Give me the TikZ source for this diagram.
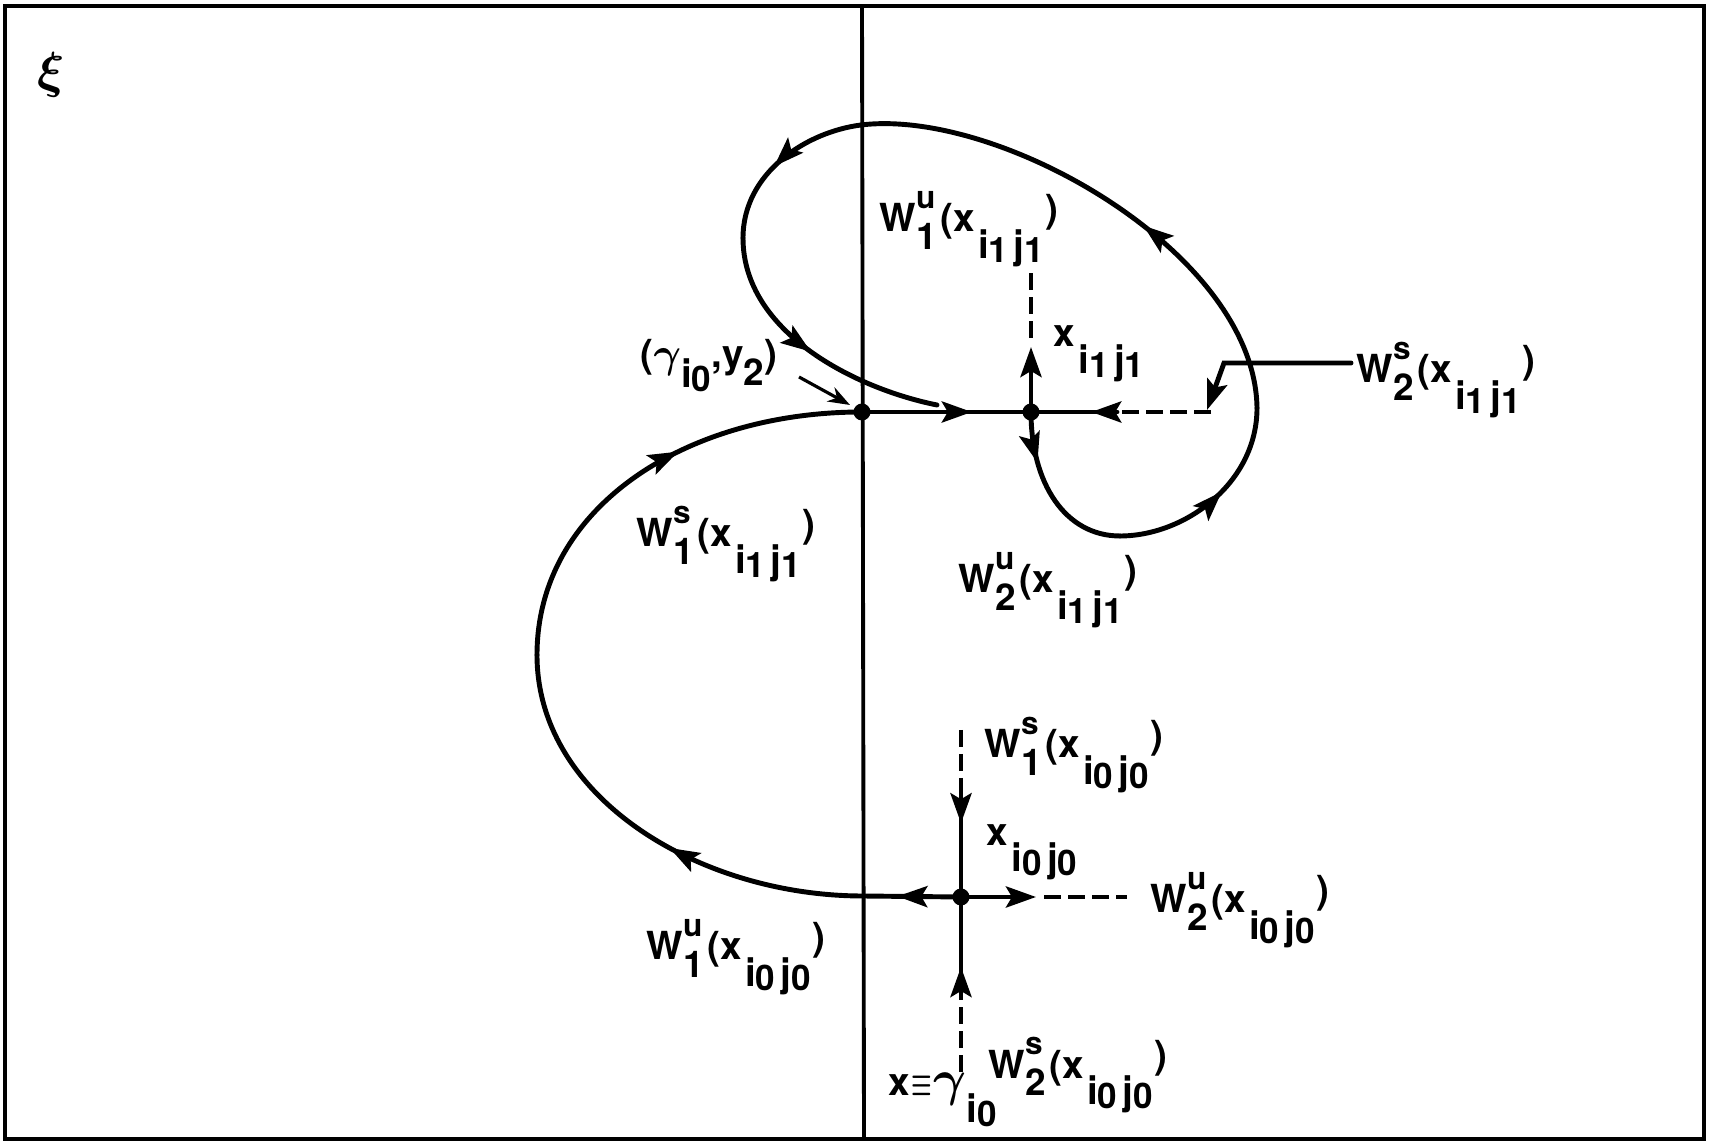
\documentclass[tikz,border=0pt]{standalone}
\usepackage{fontspec}
\setsansfont{TeX Gyre Heros}
\usetikzlibrary{arrows.meta,decorations.markings}

% index digit, lowered index pair i_a j_b
\newcommand{\idx}[1]{\raisebox{-0.12em}{\fontsize{10}{11}\selectfont#1}}
\newcommand{\subij}[2]{\raisebox{-0.68em}{\kern0.08em i\idx{#1}\kern0.14em j\idx{#2}}}
% manifold label W^a_b(x_{i_c j_d})
\newcommand{\Wlab}[4]{W\rlap{\raisebox{0.6em}{\small#1}}\raisebox{-0.45em}{\fontsize{10.5}{11}\selectfont#2}\kern0.1em(x\subij{#3}{#4}\kern0.05em\raisebox{0.25em}{)}}

\tikzset{
  curve/.style={line width=1.4pt, line cap=round},
  dashline/.style={line width=1.2pt, dash pattern=on 0.17cm off 0.07cm},
  lab/.style={font=\fontsize{11}{13}\selectfont\bfseries\sffamily\boldmath, inner sep=0pt, anchor=base west},
  midtip/.style={postaction={decorate, decoration={markings, mark=at position #1 with {\arrow{>}}}}}
}

\begin{document}
\begin{tikzpicture}[>={Stealth[length=3mm,width=2.1mm,inset=0.6mm]}]
\useasboundingbox (0,0) rectangle (17.12,11.43);

% Frame and section line
\draw[line width=1.4pt] (0.05,0.04) rectangle (17.04,11.37);
\draw[line width=1.1pt] (8.62,11.37) -- (8.64,0.04);

\coordinate (A) at (8.62,7.31);
\coordinate (B) at (10.31,7.31);
\coordinate (C) at (9.61,2.46);

% Lower loop from x_{i0j0} to (gamma,y2)
\draw[curve, midtip=0.65] (C) -- (8.63,2.47) coordinate (c-w);
\draw[curve, midtip=0.45] (c-w) .. controls (7.0,2.47) and (5.37,3.45) .. (5.37,4.88) coordinate (l-w);
\draw[curve, midtip=0.58] (l-w) .. controls (5.37,6.35) and (6.85,7.31) .. (A);

% Upper loop from x_{i1j1}
\draw[curve, midtip=0.3] (B) .. controls (10.31,6.6) and (10.65,6.07) .. (11.20,6.07) coordinate (u-s);
\draw[curve, midtip=0.55] (u-s) .. controls (11.85,6.07) and (12.57,6.6) .. (12.57,7.35) coordinate (u-e);
\draw[curve, midtip=0.42] (u-e) .. controls (12.55,8.9) and (10.0,10.35) .. (8.61,10.18) coordinate (u-n);
\draw[curve, midtip=0.55] (u-n) .. controls (8.06,10.11) and (7.43,9.7) .. (7.43,9.05) coordinate (u-w);
\draw[curve, midtip=0.5] (u-w) .. controls (7.43,8.1) and (8.57,7.54) .. (9.37,7.38);

% Branches at x_{i1j1}
\draw[curve, midtip=0.65] (A) -- (B);
\draw[curve, ->] (B) -- (10.31,7.96);
\draw[dashline] (10.31,8.05) -- (10.31,8.76);
\draw[dashline] (12.11,7.31) coordinate (b-e) -- (11.17,7.31) coordinate (b-m);
\draw[curve, midtip=0.3] (b-m) -- (B);

% Branches at x_{i0j0}
\draw[dashline] (9.61,4.13) -- (9.61,3.47) coordinate (c-n);
\draw[curve, midtip=0.27] (c-n) -- (C);
\draw[dashline] (9.61,0.71) -- (9.61,1.46) coordinate (c-s);
\draw[curve, midtip=0.3] (c-s) -- (C);
\draw[curve, ->] (C) -- (10.36,2.46);
\draw[dashline] (10.44,2.46) -- (11.27,2.46);

% Points
\fill (A) circle (0.085);
\fill (B) circle (0.085);
\fill (C) circle (0.085);

% Labels
\node[font=\fontsize{15}{16}\selectfont\boldmath] (xi) at (0.51,10.68) {$\xi$};
\node[lab] (wu1b) at (8.79,9.11) {\Wlab{u}{1}{1}{1}};
\node[lab] (xb) at (10.53,7.96) {x\subij{1}{1}};
\node[lab] (ws2b) at (13.56,7.60) {\Wlab{s}{2}{1}{1}};
\node[lab] (ws1b) at (6.36,5.96) {\Wlab{s}{1}{1}{1}};
\node[lab] (wu2b) at (9.58,5.50) {\Wlab{u}{2}{1}{1}};
\node[lab] (ws1c) at (9.84,3.85) {\Wlab{s}{1}{0}{0}};
\node[lab] (xc) at (9.86,2.98) {x\subij{0}{0}};
\node[lab] (wu2c) at (11.50,2.30) {\Wlab{u}{2}{0}{0}};
\node[lab] (wu1c) at (6.46,1.83) {\Wlab{u}{1}{0}{0}};
\node[lab] (ws2c) at (9.88,0.65) {\Wlab{s}{2}{0}{0}};
\node[lab] (xg) at (8.88,0.48) {x\kern0.03em\scalebox{0.6}[1]{$\equiv$}\kern0.03em{\fontsize{13.5}{14}\selectfont$\gamma$}\raisebox{-0.7em}{i\idx{0}}};
\node[lab] (ay) at (6.40,7.75) {({\fontsize{12}{14}\selectfont$\gamma$}\raisebox{-0.5em}{i\idx{0}},y\raisebox{-0.45em}{\fontsize{10.5}{11}\selectfont 2})};

% Leaders
\draw[line width=0.9pt, -{Stealth[length=2.2mm,width=1.6mm]}] (7.99,7.66) coordinate (ay-e) -- (8.50,7.38);
\draw[curve, ->] (13.51,7.80) coordinate (ws2b-w) -- (12.24,7.80) -- (12.07,7.33);
\end{tikzpicture}
\end{document}
